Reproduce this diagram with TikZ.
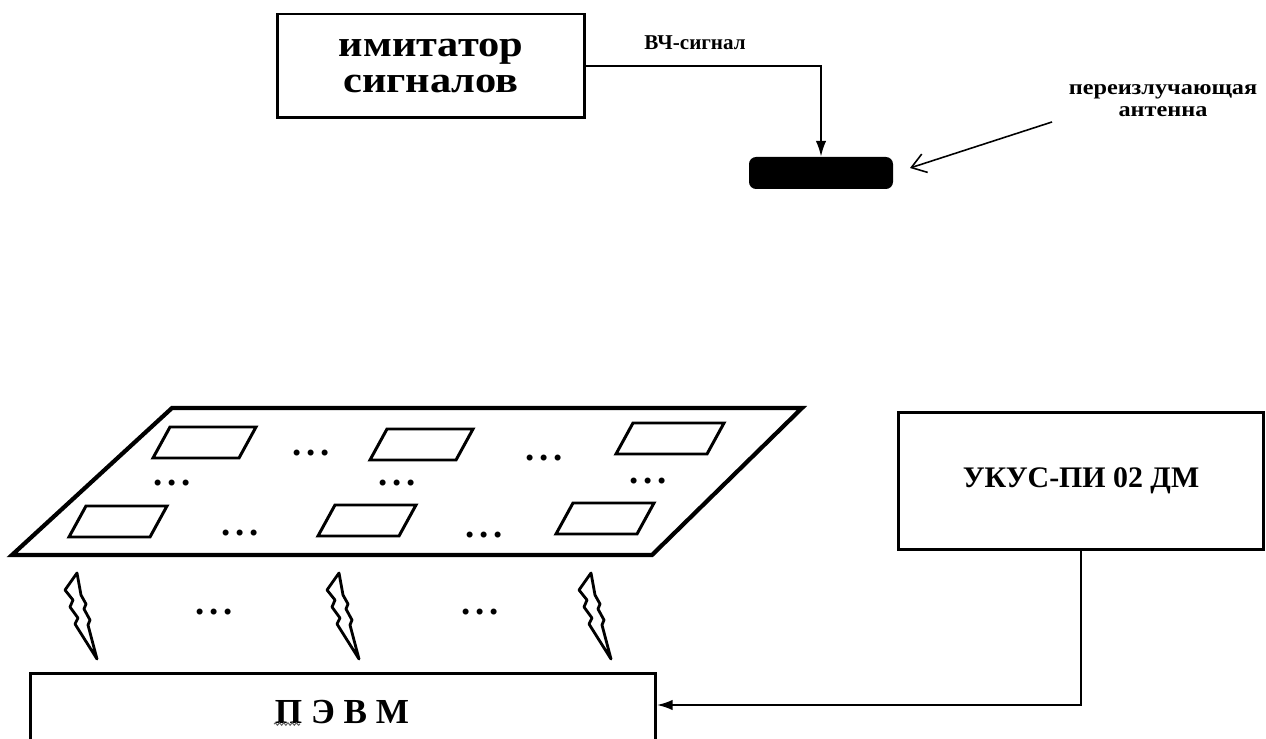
\documentclass[tikz,border=0pt]{standalone}
\usepackage{fontspec}
\setmainfont{Liberation Serif}
\newfontfamily\widefont[FakeStretch=1.15]{Liberation Serif}
\usetikzlibrary{arrows.meta,decorations.pathmorphing,calc}
\newcommand{\mydots}{.\kern2.6pt.\kern2.6pt.}
\begin{document}
\begin{tikzpicture}[x=0.02cm,y=-0.02cm,
  box/.style={draw, line width=1.7pt, inner sep=0pt},
  conn/.style={line width=1.2pt, -{Latex[length=9pt,width=6pt]}},
  panel/.style={line width=2.4pt, line join=miter},
  cell/.style={line width=1.7pt},
  dots/.style={font=\bfseries\fontsize{21}{21}\selectfont, inner sep=0pt},
  boltline/.style={line width=1.6pt, line join=round},
  bolt/.pic={\draw[boltline] (0,0) -- (-12,17) -- (-4,27) -- (-7,34) -- (1,45) -- (-2,51) -- (20,86)
     -- (11,52) -- (13,47) -- (7,36) -- (9,31) -- (4,22) -- cycle;}
]
\useasboundingbox[fill=white] (0,0) rectangle (1266,739);
\clip (0,0) rectangle (1266,739);

% top part
\node[box, minimum width=6.16cm, minimum height=2.08cm, align=center,
      font=\widefont\bfseries\fontsize{21}{21}\selectfont] (sim) at (431,66) {имитатор\\сигналов};
\node[fill=black, rounded corners=4pt, minimum width=2.88cm, minimum height=0.64cm, inner sep=0pt] (ant) at (821,173) {};
\draw[conn] (sim.east) -| (ant.north);
\node[font=\bfseries\fontsize{12}{12}\selectfont] (hf) at (695,43) {ВЧ-сигнал};
\node[font=\widefont\bfseries\fontsize{12}{12.5}\selectfont, align=center] (antlbl) at (1163,101) {переизлучающая\\антенна};
\coordinate (pstart) at (1052,122);
\coordinate (pend) at (910,168);
\draw[line width=0.9pt, -{Straight Barb[length=8pt,width=11pt]}] (pstart) -- (pend);

% panel
\draw[panel] (172,408) -- (802,408) -- (652,555) -- (12,555) -- cycle;
\foreach \x/\y/\w in {170/427/86, 387/429/86, 633/423/91, 86/506/81, 335/505/81, 573/503/81}
  \draw[cell] (\x,\y) -- ++(\w,0) -- ++(-17,31) -- ++(-\w,0) -- cycle;
\foreach \x/\y [count=\i] in {311/453, 544/458, 172/483, 397/483, 648/481, 240/533, 484/535, 214/612, 480/612}
  \node[dots] (dots\i) at (\x,\y) {\mydots};

% bolts
\foreach \x in {77,339,591} \pic at (\x,573) {bolt};

% PC
\node[box, minimum width=12.5cm, minimum height=2cm, anchor=north west] (pc) at (29,672) {};
\node[font=\bfseries\fontsize{20}{20}\selectfont] (pctext) at (342,712) {П Э В М};
\draw[decorate, decoration={snake,amplitude=0.7pt,segment length=2.4pt}, line width=0.6pt, black!60]
  (274,724) -- (300,724);

% UKUS
\node[box, minimum width=7.32cm, minimum height=2.76cm, font=\bfseries\fontsize{17}{17}\selectfont] (ukus) at (1081,481) {УКУС-ПИ 02 ДМ};
\draw[conn] (ukus.south) |- ([yshift=-0.66cm]pc.north east);
\end{tikzpicture}
\end{document}
